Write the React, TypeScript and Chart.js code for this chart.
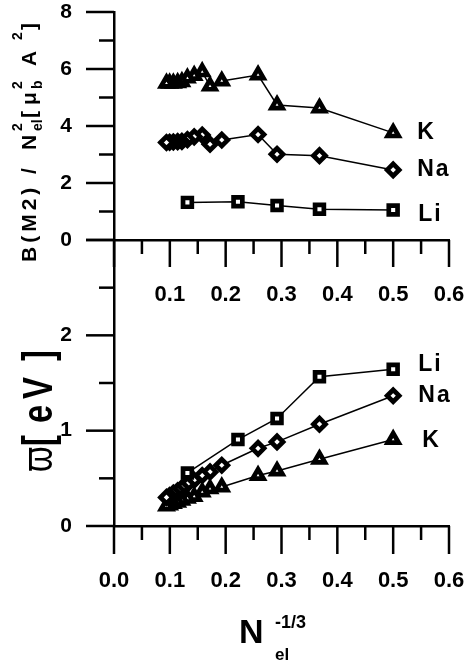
import React, { useEffect, useRef } from 'react';
import { Chart, registerables } from 'chart.js';

Chart.register(...registerables);

// x = N_el^(-1/3)
const xKNa = [0.5, 0.368, 0.292, 0.258, 0.193, 0.172, 0.158, 0.1436, 0.1315, 0.1216, 0.114, 0.1063, 0.0996, 0.094];
const xLi = [0.5, 0.368, 0.292, 0.222, 0.1315];

// upper panel: B(M2)/N^2
const bK = [3.76, 4.63, 4.74, 5.79, 5.58, 5.4, 5.9, 5.77, 5.68, 5.55, 5.52, 5.5, 5.5, 5.5];
const bNa = [2.46, 2.96, 3.01, 3.7, 3.51, 3.36, 3.68, 3.62, 3.52, 3.46, 3.45, 3.44, 3.43, 3.42];
const bLi = [1.05, 1.08, 1.21, 1.34, 1.32];

// lower panel: varpi [eV]
const wLi = [1.644, 1.566, 1.128, 0.907, 0.556];
const wNa = [1.366, 1.068, 0.882, 0.815, 0.637, 0.567, 0.53, 0.48, 0.44, 0.4, 0.37, 0.345, 0.32, 0.3];
const wK = [0.907, 0.7, 0.577, 0.53, 0.41, 0.39, 0.356, 0.31, 0.29, 0.27, 0.25, 0.235, 0.22, 0.21];

// series labels
const topNames = ['K', 'Na', 'Li'];
const topNameY = [3.76, 2.46, 0.88];
const botNames = ['Li', 'Na', 'K'];
const botNameY = [1.69, 1.37, 0.9];
const topNameX = [0.543, 0.543, 0.545];
const botNameX = [0.545, 0.545, 0.552];

// axis tick values
const xTickVals = [0, 0.05, 0.1, 0.15, 0.2, 0.25, 0.3, 0.35, 0.4, 0.45, 0.5, 0.55, 0.6];
const yTopTickVals = [0, 1, 2, 3, 4, 5, 6, 7, 8];
const yBotTickVals = [0, 0.5, 1, 1.5, 2, 2.5, 3];

const FAM = "'Liberation Sans', Arial, sans-serif";

function rotText(ctx: CanvasRenderingContext2D, text: string, px: number, py: number, font: string, sx = 1, ls = '0px') {
  ctx.save();
  ctx.translate(px, py);
  ctx.rotate(-Math.PI / 2);
  ctx.scale(sx, 1);
  ctx.font = font;
  (ctx as any).letterSpacing = ls;
  ctx.textAlign = 'left';
  ctx.textBaseline = 'alphabetic';
  ctx.fillText(text, 0, 0);
  ctx.restore();
}

const decoPlugin = {
  id: 'deco',
  afterDraw(chart: any) {
    const { ctx, scales, chartArea } = chart;
    const x = scales.x, yT = scales.yT, yB = scales.yB;
    const left = chartArea.left;
    const bottom = chartArea.bottom;
    const midY = yB.getPixelForValue(3);
    ctx.save();
    ctx.strokeStyle = '#000';
    ctx.lineWidth = 2.5;
    const line = (x1: number, y1: number, x2: number, y2: number) => {
      ctx.beginPath();
      ctx.moveTo(x1, y1);
      ctx.lineTo(x2, y2);
      ctx.stroke();
    };
    yTopTickVals.forEach((v, i) => {
      const p = yT.getPixelForValue(v);
      line(left - (i % 2 === 0 ? 28 : 15), p, left, p);
    });
    yBotTickVals.forEach((v, i) => {
      const p = yB.getPixelForValue(v);
      line(left - (i % 2 === 0 ? 28 : 15), p, left, p);
    });
    xTickVals.forEach((v, i) => {
      const p = x.getPixelForValue(v);
      line(p, bottom, p, bottom + (i % 2 === 0 ? 28 : 14));
      line(p, midY, p, midY + (i % 2 === 0 ? 27 : 14));
    });

    ctx.fillStyle = '#000';
    // series labels
    ctx.font = `bold 23px ${FAM}`;
    (ctx as any).letterSpacing = '2px';
    ctx.textAlign = 'left';
    ctx.textBaseline = 'middle';
    topNames.forEach((n, i) => ctx.fillText(n, x.getPixelForValue(topNameX[i]), yT.getPixelForValue(topNameY[i])));
    botNames.forEach((n, i) => ctx.fillText(n, x.getPixelForValue(botNameX[i]), yB.getPixelForValue(botNameY[i])));
    (ctx as any).letterSpacing = '0px';

    // x title
    ctx.textBaseline = 'alphabetic';
    ctx.font = `bold 34px ${FAM}`;
    ctx.fillText('N', 239, 643);
    ctx.font = `bold 18px ${FAM}`;
    ctx.fillText('-1/3', 275, 628);
    ctx.font = `bold 17px ${FAM}`;
    ctx.fillText('el', 275, 660);

    // upper y title
    const big = `bold 21px ${FAM}`;
    const small = `bold 14px ${FAM}`;
    rotText(ctx, 'B(M2)', 36, 262, big, 1, '4px');
    rotText(ctx, '/', 36, 174, big);
    rotText(ctx, 'N', 36, 150, big);
    rotText(ctx, '2', 22, 131, small);
    rotText(ctx, 'el', 42, 131, small);
    rotText(ctx, '[', 36, 118, big);
    rotText(ctx, '\u03bc', 36, 105, big);
    rotText(ctx, '2', 22, 89, small);
    rotText(ctx, 'b', 42, 89, small);
    rotText(ctx, 'A', 36, 66, big);
    rotText(ctx, '2', 22, 40, small);
    rotText(ctx, ']', 36, 30, big);

    // lower y title
    const bf = `bold 42px ${FAM}`;
    rotText(ctx, '\u03d6', 52, 472, `42px ${FAM}`, 0.78);
    rotText(ctx, '[', 52, 446, bf, 0.78);
    rotText(ctx, 'e', 52, 423, bf, 0.78);
    rotText(ctx, 'V', 52, 399, bf, 0.78);
    rotText(ctx, ']', 52, 361, bf, 0.78);
    ctx.restore();
  },
};

function series(xs: number[], ys: number[], style: string, r: number, yAxisID: string) {
  return {
    data: xs.map((xv, i) => ({ x: xv, y: ys[i] })),
    showLine: true,
    borderColor: '#000',
    borderWidth: 1.5,
    pointStyle: style,
    pointRadius: r,
    pointBorderWidth: 4.7,
    pointBorderColor: '#000',
    pointBackgroundColor: '#fff',
    xAxisID: 'x',
    yAxisID,
    clip: false,
  };
}

const zeroPad = (s: any) => {
  s.paddingLeft = 0;
  s.paddingRight = 0;
  s.paddingTop = 0;
  s.paddingBottom = 0;
};

export default function App() {
  const ref = useRef<HTMLCanvasElement>(null);
  useEffect(() => {
    const tickFont = { family: FAM, size: 22, weight: 'bold' as const };
    const yFont = { family: FAM, size: 21, weight: 'bold' as const };
    const chart = new Chart(ref.current!, {
      type: 'scatter',
      data: {
        datasets: [
          series(xKNa, bK, 'triangle', 6.3, 'yT'),
          series(xKNa, bNa, 'rectRot', 6.0, 'yT'),
          series(xLi, bLi, 'rect', 6.2, 'yT'),
          series(xLi, wLi, 'rect', 6.2, 'yB'),
          series(xKNa, wNa, 'rectRot', 6.0, 'yB'),
          series(xKNa, wK, 'triangle', 6.3, 'yB'),
        ] as any,
      },
      options: {
        responsive: false,
        animation: false,
        devicePixelRatio: 1,
        layout: { padding: { top: 12, right: 16, left: 0, bottom: 0 } },
        plugins: { legend: { display: false }, tooltip: { enabled: false } },
        scales: {
          x: {
            type: 'linear',
            position: 'bottom',
            min: 0,
            max: 0.6,
            afterFit: (s: any) => { s.height = 142; zeroPad(s); },
            ticks: {
              stepSize: 0.1,
              autoSkip: false,
              maxRotation: 0,
              padding: 42,
              color: '#000',
              font: tickFont,
              callback: (v: any) => Number(v).toFixed(1),
            },
            grid: { drawOnChartArea: false, drawTicks: false },
            border: { color: '#000', width: 2.5 },
          },
          x2: {
            type: 'linear',
            axis: 'x',
            position: { yB: 3 } as any,
            min: 0,
            max: 0.6,
            afterFit: (s: any) => { zeroPad(s); },
            ticks: {
              stepSize: 0.1,
              autoSkip: false,
              maxRotation: 0,
              padding: 42,
              color: '#000',
              font: tickFont,
              callback: (v: any) => (Number(v) === 0 ? '' : Number(v).toFixed(1)),
            },
            grid: { drawOnChartArea: false, drawTicks: false },
            border: { color: '#000', width: 2.5 },
          },
          yB: {
            type: 'linear',
            axis: 'y',
            position: 'left',
            stack: 'v',
            stackWeight: 286,
            min: 0,
            max: 3,
            afterFit: (s: any) => { s.width = 114; zeroPad(s); },
            ticks: {
              stepSize: 1,
              padding: 42,
              color: '#000',
              font: yFont,
              callback: (v: any) => (Number(v) === 3 ? '' : String(v)),
            },
            grid: { drawOnChartArea: false, drawTicks: false },
            border: { color: '#000', width: 2.5 },
          },
          yT: {
            type: 'linear',
            axis: 'y',
            position: 'left',
            stack: 'v',
            stackWeight: 228,
            weight: 1,
            min: 0,
            max: 8,
            afterFit: (s: any) => { s.width = 114; zeroPad(s); },
            ticks: {
              stepSize: 2,
              padding: 42,
              color: '#000',
              font: yFont,
            },
            grid: { drawOnChartArea: false, drawTicks: false },
            border: { color: '#000', width: 2.5 },
          },
        } as any,
      },
      plugins: [decoPlugin],
    });
    return () => chart.destroy();
  }, []);
  return (
    <div style={{ position: 'fixed', left: 0, top: 0, width: 465, height: 668, background: '#fff' }}>
      <canvas ref={ref} width={465} height={668} style={{ width: 465, height: 668, display: 'block' }} />
    </div>
  );
}
